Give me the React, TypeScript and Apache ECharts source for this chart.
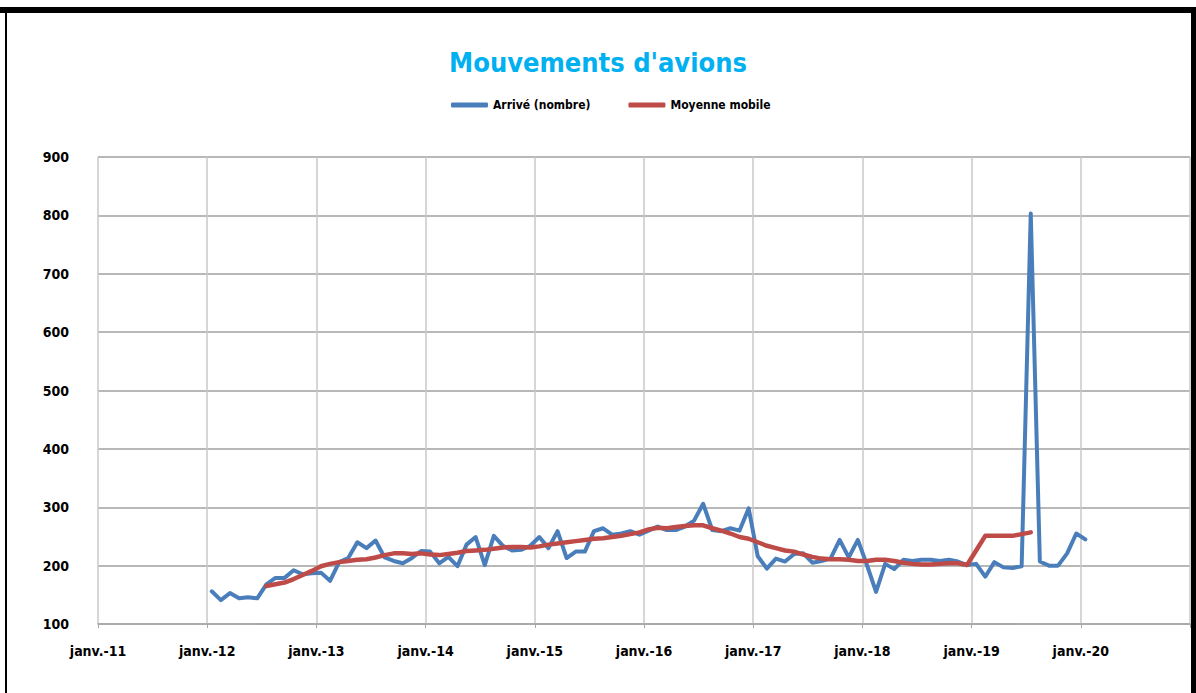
import React, { useEffect, useRef } from 'react';
import * as echarts from 'echarts';

const titleText = "Mouvements d'avions";
const seriesNames = ['Arrivé (nombre)', 'Moyenne mobile'];
// tick labels, one per year, starting at janv. 2011 (month index 0)
const yearTickLabels = ['janv.-11', 'janv.-12', 'janv.-13', 'janv.-14', 'janv.-15', 'janv.-16', 'janv.-17', 'janv.-18', 'janv.-19', 'janv.-20'];
// first data month = janv. 2012, i.e. 12 months after janv. 2011
const firstMonthIndex = 12;

// monthly arrivals, janv. 2012 -> janv. 2020
const arrivals = [
  156, 141, 153, 144, 146, 144, 168, 179, 179, 192, 185, 187,
  188, 174, 206, 213, 240, 230, 243, 214, 208, 204, 213, 225,
  224, 204, 215, 199, 236, 249, 201, 251, 234, 226, 227, 234,
  249, 230, 259, 213, 224, 224, 259, 264, 253, 255, 259, 253,
  260, 267, 261, 261, 267, 277, 306, 261, 259, 264, 260, 298,
  216, 195, 212, 207, 220, 221, 205, 208, 212, 244, 214, 244,
  201, 155, 203, 194, 210, 208, 210, 210, 208, 210, 207, 201,
  203, 181, 206, 197, 196, 199, 803, 207, 200, 200, 221, 255,
  245,
];

// moving average, same months (null where absent)
const movingAverage = [
  null, null, null, null, null, null, 165, 168, 171, 177, 184, 191,
  199, 203, 206, 208, 210, 211, 214, 218, 221, 221, 220, 221,
  219, 218, 220, 222, 225, 226, 227, 229, 231, 232, 232, 231,
  233, 236, 238, 240, 242, 244, 246, 247, 249, 251, 254, 257,
  262, 265, 264, 266, 268, 269, 269, 264, 260, 255, 249, 246,
  240, 234, 230, 226, 224, 219, 215, 212, 211, 211, 210, 208,
  208, 210, 210, 208, 205, 203, 202, 202, 203, 204, 204, 201,
  226, 251, 251, 251, 251, 254, 257, null, null, null, null, null,
  null,
];

const FONT = "'DejaVu Sans Condensed', 'DejaVu Sans', sans-serif";

export default function App() {
  const ref = useRef<HTMLDivElement>(null);
  useEffect(() => {
    if (!ref.current) return;
    const chart = echarts.init(ref.current, null, { renderer: 'svg' });
    const toPoints = (arr: (number | null)[]) =>
      arr.map((v, i) => [firstMonthIndex + i + 0.5, v]);
    chart.setOption({
      animation: false,
      backgroundColor: '#ffffff',
      title: {
        text: titleText,
        left: 'center',
        top: 44,
        textStyle: { fontFamily: FONT, fontSize: 27, fontWeight: 'bold', color: '#00B0F0' },
      },
      legend: {
        left: 446,
        top: 94,
        icon: 'roundRect',
        itemWidth: 37,
        itemHeight: 5,
        itemGap: 38,
        textStyle: { fontFamily: FONT, fontSize: 12, fontWeight: 'bold', color: '#000' },
        data: seriesNames,
      },
      grid: { left: 98, right: 6, top: 157, bottom: 69, containLabel: false },
      xAxis: {
        type: 'value',
        min: 0,
        max: 120,
        interval: 12,
        axisLine: { show: true, lineStyle: { color: '#A6A6A6', width: 1.5 } },
        axisTick: { show: true, length: 4, lineStyle: { color: '#A6A6A6' } },
        axisLabel: {
          margin: 20,
          fontFamily: FONT,
          fontSize: 14,
          fontWeight: 'bold',
          color: '#000',
          formatter: (v: number) => yearTickLabels[Math.round(v / 12)] ?? '',
        },
        splitLine: { show: true, lineStyle: { color: '#C8C8C8', width: 1.5 } },
      },
      yAxis: {
        type: 'value',
        min: 100,
        max: 900,
        interval: 100,
        axisLine: { show: false },
        axisTick: { show: false },
        axisLabel: { margin: 29, fontFamily: FONT, fontSize: 14, fontWeight: 'bold', color: '#000' },
        splitLine: { show: true, lineStyle: { color: '#A0A0A0', width: 1.5 } },
      },
      series: [
        {
          name: seriesNames[0],
          type: 'line',
          data: toPoints(arrivals),
          showSymbol: false,
          symbol: 'none',
          color: '#4A7EBB',
          lineStyle: { width: 4, color: '#4A7EBB', join: 'round', cap: 'round' },
        },
        {
          name: seriesNames[1],
          type: 'line',
          data: toPoints(movingAverage),
          showSymbol: false,
          symbol: 'none',
          connectNulls: false,
          color: '#BE4B48',
          lineStyle: { width: 4.5, color: '#BE4B48', join: 'round', cap: 'round' },
        },
      ],
      graphic: [
        { type: 'rect', z: 100, shape: { x: 0, y: 7, width: 1196, height: 6 }, style: { fill: '#000' } },
        { type: 'rect', z: 100, shape: { x: 5, y: 7, width: 2, height: 686 }, style: { fill: '#000' } },
        { type: 'rect', z: 100, shape: { x: 1191, y: 7, width: 5, height: 686 }, style: { fill: '#000' } },
      ],
    });
    return () => chart.dispose();
  }, []);
  return (
    <div
      ref={ref}
      style={{ position: 'absolute', left: 0, top: 0, width: 1196, height: 693 }}
    />
  );
}
